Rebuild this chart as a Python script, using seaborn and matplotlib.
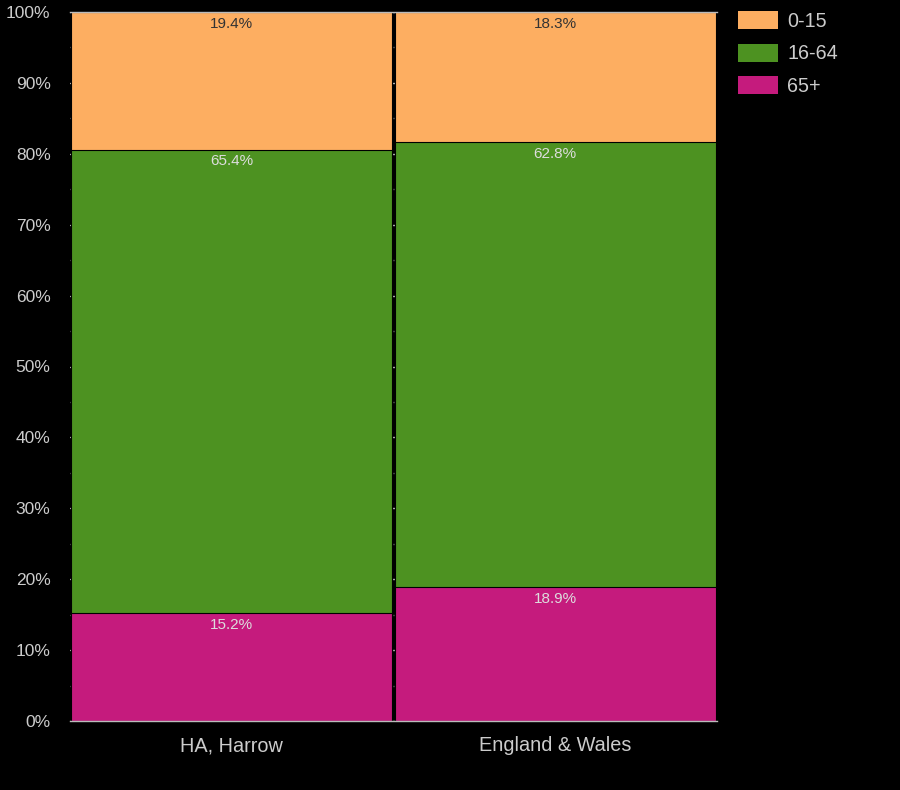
import matplotlib
matplotlib.use("Agg")
import matplotlib.pyplot as plt
import seaborn as sns
import pandas as pd
import numpy as np
from matplotlib.patches import Patch
from matplotlib.ticker import MultipleLocator, FuncFormatter

regions = ["HA, Harrow", "England & Wales"]
age_groups = ["0-15", "16-64", "65+"]
share_0_15 = [19.4, 18.3]
share_16_64 = [65.4, 62.8]
share_65_plus = [15.2, 18.9]
colors = {"0-15": "#fdae61", "16-64": "#4d9221", "65+": "#c51b7d"}
label_colors = {"0-15": "#333333", "16-64": "#dddddd", "65+": "#dddddd"}

sns.set_theme(style="dark")
plt.rcParams["font.family"] = ["Liberation Sans", "DejaVu Sans"]

fig = plt.figure(figsize=(9, 7.9), dpi=100, facecolor="black")
ax = fig.add_axes([70 / 900, 1 - 721 / 790, 647 / 900, 709 / 790])
ax.set_facecolor("black")

c65 = np.array(share_65_plus)
c1664 = c65 + np.array(share_16_64)
c015 = c1664 + np.array(share_0_15)

layers = [("0-15", c015, share_0_15), ("16-64", c1664, share_16_64), ("65+", c65, share_65_plus)]
for name, tops, vals in layers:
    df = pd.DataFrame({"region": regions, "top": tops})
    sns.barplot(data=df, x="region", y="top", color=colors[name], width=0.992,
                edgecolor="black", linewidth=0.8, saturation=1, ax=ax, zorder=2)
    for i, (t, v) in enumerate(zip(tops, vals)):
        ax.annotate(f"{v:.1f}%", xy=(i, t), xytext=(0, -3.5), textcoords="offset points",
                    ha="center", va="top", fontsize=11, color=label_colors[name], zorder=5)

ax.set_xlim(-0.5, 1.5)
ax.set_ylim(0, 100)
ax.yaxis.set_major_locator(MultipleLocator(10))
ax.yaxis.set_minor_locator(MultipleLocator(5))
ax.yaxis.set_major_formatter(FuncFormatter(lambda v, p: f"{v:.0f}%"))
ax.grid(False)
ax.grid(axis="y", which="major", color="#bbbbbb", linewidth=1, zorder=0)
ax.grid(axis="y", which="minor", color="#444444", linewidth=1, zorder=0)
ax.set_axisbelow(True)
ax.tick_params(axis="both", which="both", length=0, colors="#cccccc")
ax.tick_params(axis="y", labelsize=12.5, pad=14)
ax.tick_params(axis="x", labelsize=14.3, pad=11)
ax.set_xlabel("")
ax.set_ylabel("")
for s in ["left", "right"]:
    ax.spines[s].set_visible(False)
for s in ["top", "bottom"]:
    ax.spines[s].set_visible(True)
    ax.spines[s].set_color("#bbbbbb")
    ax.spines[s].set_linewidth(1)

handles = [Patch(facecolor=colors[g], edgecolor="none", label=g) for g in age_groups]
fig.legend(handles=handles, loc="upper left", bbox_to_anchor=(738 / 900, 1 - 11 / 790),
           bbox_transform=fig.transFigure, frameon=False, fontsize=14.2,
           labelcolor="#cccccc", handlelength=2.05, handleheight=1.03,
           labelspacing=0.65, handletextpad=0.45, borderpad=0, borderaxespad=0)

fig.savefig("out.png", dpi=100, facecolor="black")
